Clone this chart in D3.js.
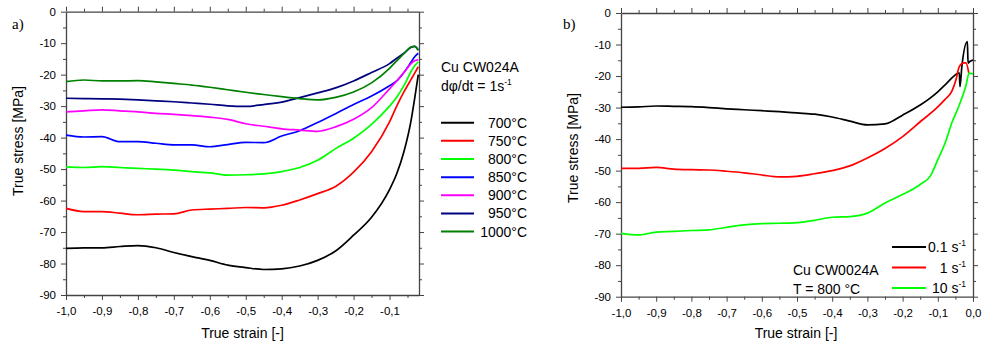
<!DOCTYPE html>
<html>
<head>
<meta charset="utf-8">
<script src="https://cdn.jsdelivr.net/npm/d3@7"></script>
<style>
  body { margin: 0; background: #fff; }
  svg text { font-family: Arial, "Liberation Sans", sans-serif; fill: #000; }
</style>
</head>
<body>
<div id="chart"></div>
<script>
// ---- panel a: stress vs strain at strain rate 1 s-1 ----
const strainA = [-1.00, -0.95, -0.90, -0.85, -0.80, -0.75, -0.70, -0.65, -0.60, -0.55, -0.50, -0.45,
    -0.40, -0.35, -0.30, -0.25, -0.20, -0.15, -0.10, -0.08, -0.06, -0.04, -0.03, -0.02];
const stress700 = [-75.2, -75.0, -75.0, -74.6, -74.3, -75.0, -76.5, -77.8, -79.0, -80.5, -81.3, -81.9,
    -81.7, -80.8, -79.0, -76.0, -71.0, -65.3, -56.5, -51.5, -44.5, -34.5, -27.5, -20.0];
const stress750 = [-62.5, -63.5, -63.5, -64.0, -64.5, -64.3, -64.2, -63.0, -62.7, -62.5, -62.2, -62.3,
    -61.5, -59.8, -57.8, -55.5, -51.0, -44.5, -35.0, -30.0, -25.5, -21.5, -19.5, -17.5];
const stress800 = [-49.3, -49.5, -49.2, -49.5, -49.8, -50.0, -50.3, -50.8, -51.2, -51.9, -51.8, -51.5,
    -50.8, -49.5, -47.2, -43.5, -40.2, -35.8, -30.0, -27.2, -23.5, -19.0, -17.2, -15.9];
const stress850 = [-39.2, -39.8, -39.7, -41.3, -41.3, -41.8, -42.3, -42.3, -42.9, -42.2, -41.5, -41.6,
    -39.5, -37.8, -35.2, -32.4, -29.5, -26.8, -23.5, -22.0, -19.3, -16.0, -14.3, -13.2];
const stress900 = [-31.8, -31.5, -31.2, -31.5, -31.8, -32.3, -32.6, -33.0, -33.5, -34.2, -35.6, -36.4,
    -37.2, -37.6, -38.0, -36.6, -34.2, -30.5, -24.5, -22.0, -19.3, -16.5, -15.6, -15.3];
const stress950 = [-27.5, -27.6, -27.7, -27.8, -28.0, -28.3, -28.6, -29.0, -29.4, -29.9, -30.1, -29.5,
    -28.7, -27.3, -25.8, -24.2, -22.0, -19.3, -16.5, -14.8, -13.2, -11.3, -11.0, -12.2];
const stress1000 = [-22.2, -21.7, -22.0, -22.0, -21.9, -22.3, -22.8, -23.3, -24.0, -24.8, -25.6, -26.3,
    -27.0, -27.6, -28.0, -27.2, -25.5, -22.6, -18.0, -15.6, -13.3, -11.2, -11.0, -12.3];
const tempLabels = ["700°C", "750°C", "800°C", "850°C", "900°C", "950°C", "1000°C"];
const tempColors = ["#000000", "#ff0000", "#00ff00", "#0000ff", "#ff00ff", "#000080", "#008000"];

// ---- panel b: stress vs strain at 800 °C, three strain rates ----
const strainRate01 = [-1.0, -0.95, -0.9, -0.85, -0.8, -0.75, -0.7, -0.65, -0.6, -0.55, -0.5, -0.45, -0.4,
    -0.35, -0.3, -0.25, -0.2, -0.15, -0.1, -0.075, -0.051, -0.039, -0.037, -0.032, -0.016, -0.014, -0.009, 0.0];
const stressRate01 = [-29.9, -29.8, -29.5, -29.6, -29.7, -30.0, -30.4, -30.7, -31.0, -31.3, -31.7, -32.1, -33.0,
    -34.3, -35.5, -35.2, -32.4, -29.2, -25.0, -22.3, -19.7, -19.0, -23.4, -17.4, -9.1, -15.9, -15.4, -14.9];
const strainRate1 = [-1.0, -0.95, -0.9, -0.85, -0.8, -0.75, -0.7, -0.65, -0.6, -0.55, -0.5, -0.45, -0.4,
    -0.35, -0.3, -0.25, -0.2, -0.15, -0.1, -0.08, -0.06, -0.048, -0.039, -0.026, -0.02, -0.012];
const stressRate1 = [-49.3, -49.3, -49.0, -49.5, -49.7, -49.8, -50.2, -50.7, -51.4, -52.0, -51.8, -51.0, -50.0,
    -48.5, -46.0, -43.0, -39.2, -34.5, -29.8, -27.5, -24.8, -21.0, -17.0, -15.8, -15.8, -19.0];
const strainRate10 = [-1.0, -0.95, -0.9, -0.85, -0.8, -0.75, -0.7, -0.65, -0.6, -0.55, -0.5, -0.45, -0.4,
    -0.35, -0.3, -0.25, -0.2, -0.15, -0.12, -0.1, -0.08, -0.06, -0.04, -0.02, -0.011, 0.0];
const stressRate10 = [-69.9, -70.4, -69.5, -69.3, -69.0, -68.8, -68.0, -67.2, -66.8, -66.7, -66.5, -65.8, -64.8,
    -64.6, -63.5, -60.3, -57.6, -54.4, -51.5, -46.5, -41.5, -34.8, -29.5, -23.0, -19.1, -19.3];
const rateLabels = ["0.1 s", "1 s", "10 s"];
const rateColors = ["#000000", "#ff0000", "#00ff00"];

// tick labels
const strainTicksA = d3.range(-1.0, -0.05, 0.1).map(v => Math.round(v * 10) / 10);
const strainTicksB = d3.range(-1.0, 0.05, 0.1).map(v => Math.round(v * 10) / 10);
const stressTicks = [0, -10, -20, -30, -40, -50, -60, -70, -80, -90];

const width = 997, height = 346;

const svg = d3.select("#chart").append("svg")
    .attr("width", width)
    .attr("height", height);

function fmtStrain(d) {
    const v = Math.round(d * 10) / 10;
    return (v === 0 ? 0 : v).toFixed(1).replace(".", ",");
}

function drawPanel(opt) {
    const x = d3.scaleLinear().domain(opt.xDomain).range([opt.left, opt.right]);
    const y = d3.scaleLinear().domain([-90, 0]).range([opt.bottom, opt.top]);
    const g = svg.append("g");

    const majorX = opt.xTicks;
    const minorX = majorX.map(v => v + 0.05).filter(v => v < opt.xDomain[1]);
    const minorY = d3.range(-85, 0, 10);

    const axes = [
        [d3.axisBottom(x), "translate(0," + opt.bottom + ")", true],
        [d3.axisTop(x), "translate(0," + opt.top + ")", false],
    ];
    axes.forEach(([ax, tr, lab]) => {
        g.append("g").attr("transform", tr)
            .call(ax.tickValues(majorX).tickSize(5).tickSizeOuter(0).tickPadding(7)
                .tickFormat(lab ? fmtStrain : ""));
        g.append("g").attr("transform", tr)
            .call(ax.tickValues(minorX).tickSize(3).tickFormat(""))
            .select(".domain").remove();
    });
    const yaxes = [
        [d3.axisLeft(y), "translate(" + opt.left + ",0)", true],
        [d3.axisRight(y), "translate(" + opt.right + ",0)", false],
    ];
    yaxes.forEach(([ax, tr, lab]) => {
        g.append("g").attr("transform", tr)
            .call(ax.tickValues(stressTicks).tickSize(5).tickSizeOuter(0).tickPadding(5)
                .tickFormat(lab ? d => String(d) : ""));
        g.append("g").attr("transform", tr)
            .call(ax.tickValues(minorY).tickSize(3).tickFormat(""))
            .select(".domain").remove();
    });
    g.selectAll(".tick text").attr("font-size", 11.5).attr("fill", "#000");
    g.selectAll(".domain").attr("stroke", "#444").attr("stroke-width", 1.3);
    g.selectAll(".tick line").attr("stroke", "#444");

    const line = d3.line()
        .x(d => x(d[0]))
        .y(d => y(d[1]))
        .curve(d3.curveMonotoneX);

    opt.series.forEach(s => {
        g.append("path")
            .datum(d3.zip(s.strain, s.stress))
            .attr("fill", "none")
            .attr("stroke", s.color)
            .attr("stroke-width", 1.7)
            .attr("stroke-linejoin", "round")
            .attr("d", line);
    });

    // axis titles
    g.append("text")
        .attr("x", (opt.left + opt.right) / 2 + opt.xTitleShift)
        .attr("y", 338)
        .attr("text-anchor", "middle")
        .attr("font-size", 14)
        .text("True strain [-]");
    g.append("text")
        .attr("transform", "translate(" + opt.yTitleX + "," + opt.yTitleY + ") rotate(-90)")
        .attr("text-anchor", "middle")
        .attr("font-size", 14)
        .text("True stress [MPa]");
    g.append("text")
        .attr("x", opt.tagX)
        .attr("y", 29)
        .attr("font-size", 15)
        .style("font-family", "'Liberation Serif', 'DejaVu Serif', serif")
        .text(opt.tag);
    return g;
}

const seriesA = [stress700, stress750, stress800, stress850, stress900, stress950, stress1000]
    .map((s, i) => ({ strain: strainA, stress: s, color: tempColors[i] }));

const gA = drawPanel({
    left: 66, right: 419, top: 11.7, bottom: 295,
    xDomain: [-1.0, -0.018], xTicks: strainTicksA,
    series: seriesA, xTitleShift: 0,
    yTitleX: 23, yTitleY: 141, tag: "a)", tagX: 12
});

// legend a
gA.append("text").attr("x", 441).attr("y", 72).attr("font-size", 14).text("Cu CW024A");
const rateText = gA.append("text").attr("x", 441).attr("y", 91).attr("font-size", 14);
rateText.append("tspan").text("dφ/dt = 1s");
rateText.append("tspan").attr("font-size", 8.5).attr("dy", -6).text("-1");
tempLabels.forEach((t, i) => {
    const yy = 122.7 + i * 18.15;
    gA.append("line").attr("x1", 441).attr("x2", 474).attr("y1", yy).attr("y2", yy)
        .attr("stroke", tempColors[i]).attr("stroke-width", 2);
    gA.append("text").attr("x", 527).attr("y", yy + 5).attr("text-anchor", "end")
        .attr("font-size", 14).text(t);
});

const seriesB = [
    { strain: strainRate01, stress: stressRate01, color: rateColors[0] },
    { strain: strainRate1, stress: stressRate1, color: rateColors[1] },
    { strain: strainRate10, stress: stressRate10, color: rateColors[2] }
];

const gB = drawPanel({
    left: 621, right: 973, top: 13, bottom: 296.7,
    xDomain: [-1.0, 0.0], xTicks: strainTicksB,
    series: seriesB, xTitleShift: -1,
    yTitleX: 578, yTitleY: 148, tag: "b)", tagX: 563
});

// legend b
rateLabels.forEach((t, i) => {
    const yy = 247 + i * 20.5;
    gB.append("line").attr("x1", 892).attr("x2", 926).attr("y1", yy).attr("y2", yy)
        .attr("stroke", rateColors[i]).attr("stroke-width", 2);
    const tx = gB.append("text").attr("x", 966).attr("y", yy + 5).attr("text-anchor", "end")
        .attr("font-size", 14);
    tx.append("tspan").text(t);
    tx.append("tspan").attr("font-size", 8.5).attr("dy", -6).text("-1");
});
gB.append("text").attr("x", 793).attr("y", 275).attr("font-size", 14).text("Cu CW0024A");
gB.append("text").attr("x", 793).attr("y", 294).attr("font-size", 14).text("T = 800 °C");
</script>
</body>
</html>
